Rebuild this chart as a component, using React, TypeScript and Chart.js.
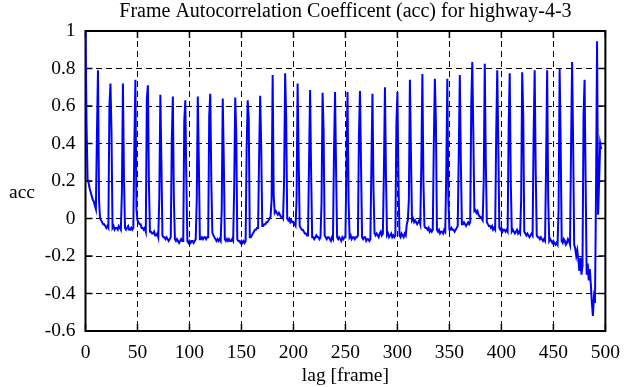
import { useEffect, useRef } from 'react';
import { Chart, registerables } from 'chart.js';
Chart.register(...registerables);

const TITLE = 'Frame Autocorrelation Coefficent (acc) for highway-4-3';
const X_LABEL = 'lag [frame]';
const Y_LABEL = 'acc';
const X_TICKS = [0, 50, 100, 150, 200, 250, 300, 350, 400, 450, 500];
const Y_TICKS = [-0.6, -0.4, -0.2, 0, 0.2, 0.4, 0.6, 0.8, 1];

// acc value for lag 0, 1, 2, ... (one row = 12 lags, spike every 12 frames)
const acc = [
  1.0, 0.5, 0.21, 0.19, 0.16, 0.14, 0.12, 0.1, 0.09, 0.07, 0.05, 0.45,
  0.79, 0.1, 0.0, -0.01, -0.02, -0.03, -0.03, -0.04, -0.05, -0.04, -0.05, 0.6,
  0.72, 0.46, -0.05, -0.04, -0.06, -0.05, -0.05, -0.06, -0.04, -0.05, -0.06, 0.14,
  0.72, 0.21, -0.05, -0.06, -0.05, -0.04, -0.06, -0.06, -0.05, -0.06, -0.05, 0.4,
  0.74, 0.05, -0.01, -0.02, -0.03, -0.03, -0.05, -0.05, -0.06, -0.05, -0.07, 0.64,
  0.71, 0.18, -0.07, -0.07, -0.08, -0.08, -0.07, -0.09, -0.09, -0.08, -0.1, 0.12,
  0.66, 0.3, -0.09, -0.1, -0.1, -0.11, -0.1, -0.11, -0.12, -0.11, -0.1, 0.42,
  0.65, 0.1, -0.11, -0.12, -0.11, -0.12, -0.13, -0.12, -0.11, -0.12, -0.12, 0.52,
  0.63, 0.2, -0.12, -0.13, -0.12, -0.13, -0.12, -0.12, -0.13, -0.12, -0.11, 0.1,
  0.65, 0.3, -0.11, -0.11, -0.1, -0.11, -0.1, -0.1, -0.11, -0.1, -0.1, 0.55,
  0.665, 0.2, -0.075, -0.09, -0.1, -0.11, -0.12, -0.11, -0.12, -0.11, -0.12, 0.05,
  0.64, 0.31, -0.11, -0.12, -0.11, -0.12, -0.11, -0.12, -0.12, -0.11, -0.12, 0.16,
  0.645, 0.45, -0.11, -0.12, -0.12, -0.13, -0.12, -0.13, -0.12, -0.13, -0.12, 0.38,
  0.63, 0.535, -0.1, -0.1, -0.09, -0.08, -0.07, -0.06, -0.06, -0.05, -0.05, 0.34,
  0.655, 0.38, -0.04, -0.04, -0.03, -0.03, -0.02, -0.02, -0.01, 0.0, 0.01, 0.1,
  0.765, 0.12, 0.03, 0.04, 0.03, 0.02, 0.03, 0.02, 0.01, 0.01, 0.0, 0.2,
  0.775, 0.54, 0.0, -0.01, 0.0, -0.02, -0.01, -0.02, -0.02, -0.03, -0.04, 0.1,
  0.72, 0.33, -0.04, -0.05, -0.06, -0.06, -0.07, -0.08, -0.08, -0.09, -0.09, 0.3,
  0.685, 0.24, -0.1, -0.1, -0.11, -0.1, -0.09, -0.1, -0.1, -0.11, -0.1, 0.08,
  0.67, 0.47, -0.09, -0.1, -0.11, -0.1, -0.1, -0.11, -0.12, -0.1, -0.11, 0.35,
  0.675, 0.26, -0.1, -0.11, -0.1, -0.11, -0.12, -0.1, -0.11, -0.1, -0.1, 0.3,
  0.675, 0.1, -0.1, -0.09, -0.11, -0.1, -0.1, -0.11, -0.1, -0.1, -0.09, 0.45,
  0.68, 0.28, -0.1, -0.11, -0.1, -0.1, -0.12, -0.11, -0.11, -0.12, -0.11, 0.3,
  0.665, 0.15, -0.08, -0.09, -0.08, -0.09, -0.1, -0.08, -0.07, -0.09, -0.08, 0.25,
  0.7, 0.22, -0.09, -0.08, -0.1, -0.09, -0.08, -0.1, -0.09, -0.1, -0.09, 0.5,
  0.675, 0.2, -0.09, -0.1, -0.08, -0.09, -0.1, -0.08, -0.09, -0.03, -0.01, 0.1,
  0.74, 0.35, -0.01, 0.0, -0.02, -0.01, -0.02, -0.03, -0.02, -0.01, -0.03, 0.3,
  0.77, 0.2, -0.04, -0.05, -0.05, -0.06, -0.05, -0.07, -0.06, -0.07, -0.06, 0.4,
  0.745, 0.52, -0.06, -0.07, -0.06, -0.08, -0.07, -0.07, -0.08, -0.06, -0.07, 0.25,
  0.745, 0.1, -0.06, -0.06, -0.05, -0.06, -0.06, -0.07, -0.06, -0.05, -0.04, 0.35,
  0.765, 0.3, -0.03, -0.03, -0.02, -0.03, -0.04, -0.03, -0.02, -0.03, -0.02, 0.6,
  0.835, 0.45, 0.04, 0.045, 0.03, 0.04, 0.02, 0.01, 0.01, 0.0, -0.01, 0.2,
  0.825, 0.3, -0.02, -0.03, -0.04, -0.04, -0.05, -0.04, -0.06, -0.05, -0.06, 0.45,
  0.79, 0.4, -0.05, -0.06, -0.05, -0.07, -0.06, -0.06, -0.07, -0.06, -0.07, 0.5,
  0.775, 0.2, -0.07, -0.06, -0.07, -0.08, -0.07, -0.06, -0.08, -0.07, -0.08, 0.1,
  0.78, 0.55, -0.07, -0.08, -0.09, -0.08, -0.09, -0.1, -0.09, -0.08, -0.09, 0.45,
  0.79, 0.25, -0.09, -0.1, -0.1, -0.11, -0.1, -0.11, -0.12, -0.11, -0.12, 0.3,
  0.79, 0.1, -0.12, -0.11, -0.12, -0.13, -0.12, -0.13, -0.14, -0.13, -0.14, 0.05,
  0.8, 0.4, -0.12, -0.13, -0.11, -0.12, -0.14, -0.13, -0.11, -0.12, -0.14, 0.38,
  0.835, 0.4, -0.14, -0.16, -0.2, -0.17, -0.22, -0.28, -0.21, -0.3, -0.25, 0.55,
  0.74, 0.2, -0.3, -0.24, -0.33, -0.27, -0.35, -0.45, -0.52, -0.42, -0.45, 0.14,
  0.945, 0.02, 0.2, 0.4, 0.37,
];

const FONT = '"Liberation Serif", "Times New Roman", serif';

export default function App() {
  const ref = useRef<HTMLCanvasElement>(null);

  useEffect(() => {
    document.body.style.margin = '0';
    const canvas = ref.current;
    if (!canvas) return;

    const framePlugin = {
      id: 'gnuframe',
      beforeDraw(c: any) {
        const ctx = c.ctx;
        ctx.save();
        ctx.fillStyle = '#ffffff';
        ctx.fillRect(0, 0, c.width, c.height);
        ctx.restore();
      },
      beforeDatasetsDraw(c: any) {
        const ctx = c.ctx;
        const a = c.chartArea;
        const xs = c.scales.x;
        const ys = c.scales.y;
        ctx.save();
        ctx.strokeStyle = '#000';
        ctx.setLineDash([]);
        ctx.lineWidth = 1.5;
        const TL = 7;
        ctx.beginPath();
        xs.ticks.forEach((t: any) => {
          const px = xs.getPixelForValue(t.value);
          ctx.moveTo(px, a.bottom);
          ctx.lineTo(px, a.bottom - TL);
          ctx.moveTo(px, a.top);
          ctx.lineTo(px, a.top + TL);
        });
        ys.ticks.forEach((t: any) => {
          const py = ys.getPixelForValue(t.value);
          ctx.moveTo(a.left, py);
          ctx.lineTo(a.left + TL, py);
          ctx.moveTo(a.right, py);
          ctx.lineTo(a.right - TL, py);
        });
        ctx.stroke();
        ctx.lineWidth = 2;
        ctx.strokeRect(a.left, a.top, a.right - a.left, a.bottom - a.top);
        ctx.restore();
      },
      afterDraw(c: any) {
        const ctx = c.ctx;
        const a = c.chartArea;
        ctx.save();
        ctx.fillStyle = '#000';
        ctx.textBaseline = 'alphabetic';
        ctx.textAlign = 'center';
        ctx.font = `20px ${FONT}`;
        ctx.fillText(TITLE, (a.left + a.right) / 2, 17);
        ctx.font = `19.5px ${FONT}`;
        ctx.fillText(X_LABEL, (a.left + a.right) / 2, 381);
        ctx.textAlign = 'left';
        ctx.fillText(Y_LABEL, 9, 198);
        ctx.restore();
      },
    };

    const tickFont = { family: FONT, size: 19.5 };

    const chart = new Chart(canvas, {
      type: 'line',
      data: {
        datasets: [
          {
            data: acc.map((y, i) => ({ x: i, y })),
            borderColor: '#0000ff',
            borderWidth: 2,
            pointRadius: 0,
            tension: 0,
            fill: false,
          },
        ],
      },
      options: {
        responsive: false,
        animation: false,
        events: [],
        layout: { padding: { top: 31, right: 16.5, left: 0, bottom: 0 } },
        plugins: {
          legend: { display: false },
          title: { display: false },
          tooltip: { enabled: false },
        },
        scales: {
          x: {
            type: 'linear',
            min: 0,
            max: 500,
            afterBuildTicks: (s: any) => {
              s.ticks = X_TICKS.map((v) => ({ value: v }));
            },
            afterFit: (s: any) => {
              s.height = 56;
            },
            grid: { color: '#000', lineWidth: 1, drawTicks: false },
            border: { display: false, dash: [6, 4] },
            ticks: {
              padding: 10,
              font: tickFont,
              color: '#000',
              maxRotation: 0,
              autoSkip: false,
              callback: (v: any) => String(v),
            },
          },
          y: {
            type: 'linear',
            min: -0.6,
            max: 1,
            afterBuildTicks: (s: any) => {
              s.ticks = Y_TICKS.map((v) => ({ value: v }));
            },
            afterFit: (s: any) => {
              s.width = 85.5;
            },
            grid: { color: '#000', lineWidth: 1, drawTicks: false },
            border: { display: false, dash: [6, 4] },
            ticks: {
              padding: 10,
              font: tickFont,
              color: '#000',
              autoSkip: false,
              callback: (v: any) => String(Math.round(Number(v) * 10) / 10),
            },
          },
        },
      },
      plugins: [framePlugin],
    } as any);

    return () => chart.destroy();
  }, []);

  return (
    <div style={{ position: 'fixed', left: 0, top: 0, width: 630, height: 387 }}>
      <canvas ref={ref} width={630} height={387} style={{ display: 'block' }} />
    </div>
  );
}
